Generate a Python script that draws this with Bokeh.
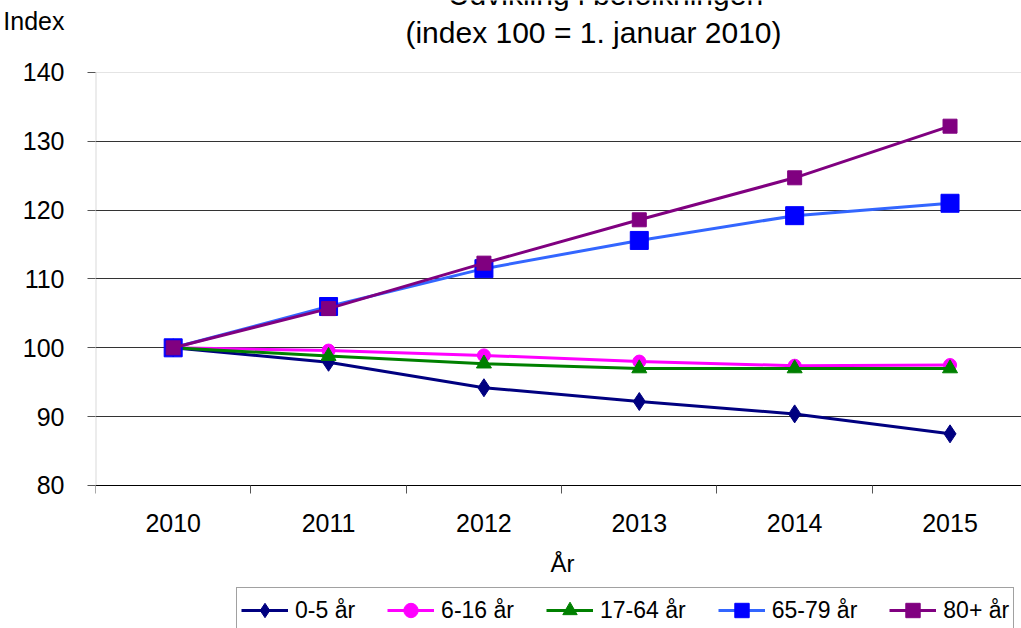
from bokeh.plotting import figure
from bokeh.models import (Range1d, FixedTicker, Grid, Legend, LegendItem, Label,
                          BoxAnnotation)
from bokeh.embed import file_html
from bokeh.resources import INLINE

years = [2010, 2011, 2012, 2013, 2014, 2015]
boundaries = [2009.5, 2010.5, 2011.5, 2012.5, 2013.5, 2014.5]
y_ticks = [80, 90, 100, 110, 120, 130, 140]

age_0_5 = [100.0, 97.9, 94.2, 92.2, 90.4, 87.5]
age_6_16 = [100.0, 99.6, 98.9, 98.0, 97.4, 97.5]
age_17_64 = [100.0, 98.8, 97.7, 97.0, 97.0, 97.0]
age_65_79 = [100.0, 106.0, 111.5, 115.6, 119.2, 121.0]
age_80 = [100.0, 105.7, 112.3, 118.6, 124.7, 132.2]

series_names = ["0-5 år", "6-16 år", "17-64 år", "65-79 år", "80+ år"]

title_line1 = "Udvikling i befolkningen"
title_line2 = "(index 100 = 1. januar 2010)"
y_title = "Index"
x_title = "År"

FONT = "Liberation Sans"

Y_MIN, Y_MAX = 80, 140
TOP_PAD = 10.46          # value room above 140 for the titles
BOTTOM_PAD = 20.78       # value room below 80 for axis labels and legend
INDEX_POS = 147.5        # where the "Index" caption sits on the y axis

p = figure(width=1021, height=628, output_backend="svg", toolbar_location=None,
           x_range=Range1d(2009.5, 2015.46),
           y_range=Range1d(Y_MIN - BOTTOM_PAD, Y_MAX + TOP_PAD),
           min_border_left=91, min_border_right=0, min_border_top=0,
           min_border_bottom=0)
p.outline_line_color = None

# ---- x axis, pinned at y = 80 ----
p.xaxis.fixed_location = Y_MIN
p.xaxis.ticker = FixedTicker(ticks=years, minor_ticks=boundaries)
p.xaxis.major_tick_out = 0
p.xaxis.major_tick_in = 0
p.xaxis.minor_tick_out = 8
p.xaxis.minor_tick_in = 0
p.xaxis.minor_tick_line_color = "#555555"
p.xaxis.axis_line_color = "black"
p.xaxis.major_label_text_font = FONT
p.xaxis.major_label_text_font_size = "25px"
p.xaxis.major_label_text_color = "black"
p.xaxis.major_label_standoff = 21

# ---- y axis (with the "Index" caption as top label) ----
p.yaxis.ticker = FixedTicker(ticks=y_ticks + [INDEX_POS], minor_ticks=y_ticks)
p.yaxis.bounds = (Y_MIN, INDEX_POS)
p.yaxis.major_label_overrides = {INDEX_POS: y_title}
p.yaxis.major_tick_out = 0
p.yaxis.major_tick_in = 0
p.yaxis.minor_tick_out = 8
p.yaxis.minor_tick_in = 0
p.yaxis.minor_tick_line_color = "#555555"
p.yaxis.axis_line_color = None
p.yaxis.major_label_text_font = FONT
p.yaxis.major_label_text_font_size = "25px"
p.yaxis.major_label_text_color = "black"
p.yaxis.major_label_standoff = 23

# y axis line only over the value range
p.add_layout(BoxAnnotation(left=2009.5, right=2009.5, bottom=Y_MIN, top=Y_MAX,
                           fill_alpha=0, line_color="#808080", line_width=2))

p.xgrid.grid_line_color = None
p.ygrid.ticker = FixedTicker(ticks=[90, 100, 110, 120, 130])
p.ygrid.grid_line_color = "#333333"
p.ygrid.grid_line_width = 1
p.add_layout(Grid(dimension=1, ticker=FixedTicker(ticks=[Y_MAX]),
                  grid_line_color="#e4e4e4"))

styles = [
    (age_0_5, "#000080", "#000080", "diamond", 18),
    (age_6_16, "#FF00FF", "#FF00FF", "circle", 13),
    (age_17_64, "#008000", "#008000", "triangle", 15),
    (age_65_79, "#3366FF", "#0000FF", "square", 18),
    (age_80, "#800080", "#800080", "square", 14),
]

items = []
for name, (vals, lc, mc, marker, size) in zip(series_names, styles):
    ln = p.line(years, vals, line_color=lc, line_width=3)
    sc = p.scatter(years, vals, marker=marker, size=size, fill_color=mc,
                   line_color=mc)
    items.append(LegendItem(label=name, renderers=[ln, sc]))

# titles
p.add_layout(Label(x=2009.5, y=Y_MAX, x_offset=510, y_offset=78,
                   text=title_line1, text_align="center",
                   text_baseline="alphabetic", text_font=FONT,
                   text_font_size="30px", text_color="black"))
p.add_layout(Label(x=2009.5, y=Y_MAX, x_offset=498, y_offset=40,
                   text=title_line2, text_align="center",
                   text_baseline="alphabetic", text_font=FONT,
                   text_font_size="30px", text_color="black"))

# x axis title
p.add_layout(Label(x=2009.5, y=Y_MIN, x_offset=467, y_offset=-78,
                   text=x_title, text_align="center",
                   text_baseline="alphabetic", text_font=FONT,
                   text_font_size="24px", text_color="black"))

legend = Legend(items=items, orientation="horizontal", location=(141, -5),
                glyph_width=47, glyph_height=36, label_standoff=7, spacing=32,
                padding=4, margin=0,
                label_text_font=FONT, label_text_font_size="23px",
                label_text_color="black",
                border_line_color="#444444", border_line_width=1,
                background_fill_color="white", background_fill_alpha=1)
p.add_layout(legend, "center")

open("out.html", "w").write(file_html(p, INLINE))
